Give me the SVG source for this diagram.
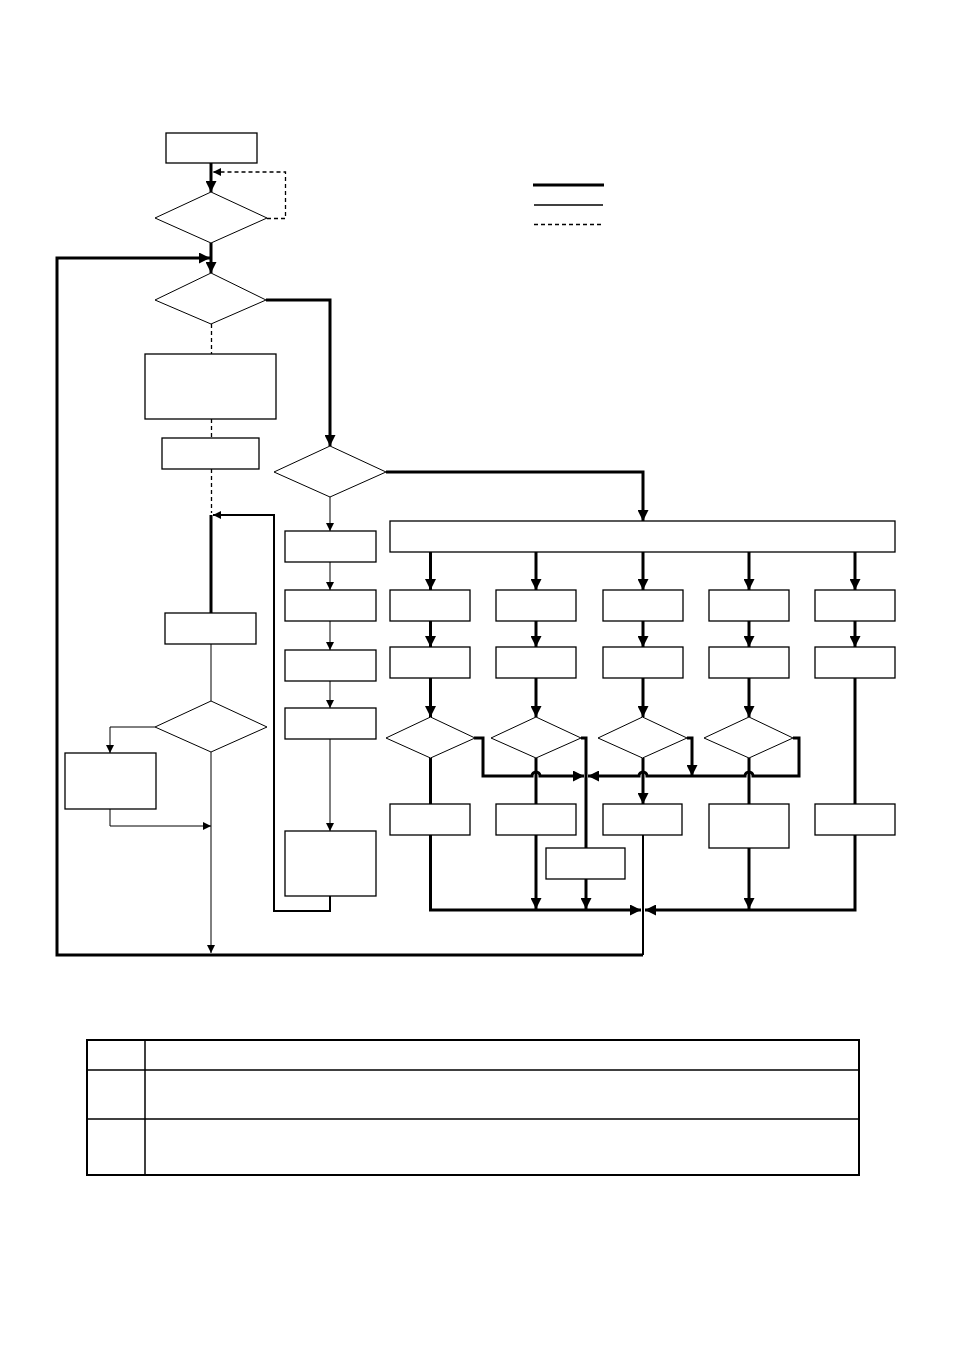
<svg xmlns="http://www.w3.org/2000/svg" width="954" height="1350" viewBox="0 0 954 1350">
<style>
.box{fill:#fff;stroke:#000;stroke-width:1.3}
.dia{fill:#fff;stroke:#000;stroke-width:1}
.thick{fill:none;stroke:#000;stroke-width:3}
.med{fill:none;stroke:#000;stroke-width:2}
.thin{fill:none;stroke:#000;stroke-width:1}
.dash{fill:none;stroke:#000;stroke-width:1.3;stroke-dasharray:4,3}
.ak{marker-end:url(#aT)}
.an{marker-end:url(#an)}
.tbl{fill:none;stroke:#000;stroke-width:2}
.tl{stroke:#000;stroke-width:1.5}
</style>
<defs>
<marker id="aT" markerUnits="userSpaceOnUse" markerWidth="11" markerHeight="11" refX="11" refY="5.5" orient="auto" viewBox="0 0 11 11"><path d="M0,0 L11,5.5 L0,11 z" fill="#000"/></marker>
<marker id="an" markerUnits="userSpaceOnUse" markerWidth="8" markerHeight="8" refX="8" refY="4" orient="auto" viewBox="0 0 8 8"><path d="M0,0 L8,4 L0,8 z" fill="#000"/></marker>
</defs>
<rect width="954" height="1350" fill="#fff"/>
<g id="connectors">
<path class="thick ak" d="M211,163 L211,192"/>
<path class="dash an" d="M267,218.5 L285.5,218.5 L285.5,172 L213,172"/>
<path class="thick ak" d="M211,243 L211,273"/>
<path class="thick ak" d="M643,955 L57,955 L57,258 L210,258"/>
<path class="thick ak" d="M266,300 L330,300 L330,446"/>
<path class="dash" d="M211.5,324 L211.5,354"/>
<path class="dash" d="M211.5,419 L211.5,438"/>
<path class="dash" d="M211.5,469 L211.5,513"/>
<path class="thick" d="M211,515 L211,613"/>
<path class="med an" d="M330,896 L330,911 L274,911 L274,515 L213,515"/>
<path class="thin" d="M211,644 L211,701"/>
<path class="thin an" d="M155,727 L110,727 L110,753"/>
<path class="thin an" d="M110,809 L110,826 L211,826"/>
<path class="thin an" d="M211,752 L211,953"/>
<path class="thin an" d="M330,497 L330,531"/>
<path class="thin an" d="M330,562 L330,590"/>
<path class="thin an" d="M330,621 L330,650"/>
<path class="thin an" d="M330,681 L330,708"/>
<path class="thin an" d="M330,739 L330,831"/>
<path class="thick ak" d="M386,472 L643,472 L643,521"/>
<path class="thick ak" d="M430.5,552 L430.5,590"/>
<path class="thick ak" d="M536,552 L536,590"/>
<path class="thick ak" d="M643,552 L643,590"/>
<path class="thick ak" d="M749,552 L749,590"/>
<path class="thick ak" d="M855,552 L855,590"/>
<path class="thick ak" d="M430.5,621 L430.5,647"/>
<path class="thick ak" d="M536,621 L536,647"/>
<path class="thick ak" d="M643,621 L643,647"/>
<path class="thick ak" d="M749,621 L749,647"/>
<path class="thick ak" d="M855,621 L855,647"/>
<path class="thick ak" d="M430.5,678 L430.5,717"/>
<path class="thick ak" d="M536,678 L536,717"/>
<path class="thick ak" d="M643,678 L643,717"/>
<path class="thick ak" d="M749,678 L749,717"/>
<path class="thick" d="M855,678 L855,804"/>
<path class="thick" d="M430.5,758 L430.5,804"/>
<path class="thick ak" d="M430.5,835 L430.5,910 L641,910"/>
<path class="thick" d="M536,758 L536,804"/>
<path class="thick ak" d="M536,835 L536,909"/>
<path class="thick" d="M581,738 L586,738 L586,848"/>
<path class="thick ak" d="M586,879 L586,909"/>
<path class="thick ak" d="M474,738 L483,738 L483,776 L532,776 A4,4 0 0 1 540,776 L584,776"/>
<path class="thick ak" d="M643,758 L643,804"/>
<path class="thick ak" d="M687,738 L692,738 L692,776"/>
<path class="thick ak" d="M793,738 L799,738 L799,776 L753,776 A4,4 0 0 0 745,776 L647,776 A4,4 0 0 0 639,776 L588,776"/>
<path class="thick" d="M749,758 L749,804"/>
<path class="thick ak" d="M749,848 L749,909"/>
<path class="thick ak" d="M855,835 L855,910 L645,910"/>
<path class="med" d="M643,835 L643,955"/>
</g>
<g id="legend">
<line x1="533" y1="185" x2="604" y2="185" stroke="#000" stroke-width="3"/>
<line x1="534" y1="205" x2="603" y2="205" stroke="#000" stroke-width="1.5"/>
<line x1="534" y1="224.5" x2="603" y2="224.5" stroke="#000" stroke-width="1.3" stroke-dasharray="4,3"/>
</g>
<g id="start"><rect class="box" x="166" y="133" width="91" height="30"/></g>
<g id="d1"><polygon class="dia" points="211,192 267,218 211,243 155,218"/></g>
<g id="d2"><polygon class="dia" points="211,273 266,300 211,324 155,300"/></g>
<g id="b3"><rect class="box" x="145" y="354" width="131" height="65"/></g>
<g id="b4"><rect class="box" x="162" y="438" width="97" height="31"/></g>
<g id="b5"><rect class="box" x="165" y="613" width="91" height="31"/></g>
<g id="d4"><polygon class="dia" points="211,701 267,727 211,752 155,727"/></g>
<g id="b6"><rect class="box" x="65" y="753" width="91" height="56"/></g>
<g id="d3"><polygon class="dia" points="330,446 386,472 330,497 274,472"/></g>
<g id="a1"><rect class="box" x="285" y="531" width="91" height="31"/></g>
<g id="a2"><rect class="box" x="285" y="590" width="91" height="31"/></g>
<g id="a3"><rect class="box" x="285" y="650" width="91" height="31"/></g>
<g id="a4"><rect class="box" x="285" y="708" width="91" height="31"/></g>
<g id="a5"><rect class="box" x="285" y="831" width="91" height="65"/></g>
<g id="wide"><rect class="box" x="390" y="521" width="505" height="31"/></g>
<g id="b1"><rect class="box" x="390" y="590" width="80" height="31"/></g>
<g id="b2"><rect class="box" x="496" y="590" width="80" height="31"/></g>
<g id="bb3"><rect class="box" x="603" y="590" width="80" height="31"/></g>
<g id="bb4"><rect class="box" x="709" y="590" width="80" height="31"/></g>
<g id="bb5"><rect class="box" x="815" y="590" width="80" height="31"/></g>
<g id="c1"><rect class="box" x="390" y="647" width="80" height="31"/></g>
<g id="c2"><rect class="box" x="496" y="647" width="80" height="31"/></g>
<g id="c3"><rect class="box" x="603" y="647" width="80" height="31"/></g>
<g id="c4"><rect class="box" x="709" y="647" width="80" height="31"/></g>
<g id="c5"><rect class="box" x="815" y="647" width="80" height="31"/></g>
<g id="dd1"><polygon class="dia" points="430.5,717 475,738 430.5,758 386,738"/></g>
<g id="dd2"><polygon class="dia" points="536,717 581,738 536,758 491,738"/></g>
<g id="dd3"><polygon class="dia" points="642.5,717 687,738 642.5,758 598,738"/></g>
<g id="dd4"><polygon class="dia" points="749,717 793,738 749,758 704,738"/></g>
<g id="e1"><rect class="box" x="390" y="804" width="80" height="31"/></g>
<g id="e2"><rect class="box" x="496" y="804" width="80" height="31"/></g>
<g id="e3"><rect class="box" x="603" y="804" width="79" height="31"/></g>
<g id="e4"><rect class="box" x="709" y="804" width="80" height="44"/></g>
<g id="e5"><rect class="box" x="815" y="804" width="80" height="31"/></g>
<g id="f"><rect class="box" x="546" y="848" width="79" height="31"/></g>
<g id="table">
<rect class="tbl" x="87" y="1040" width="772" height="135"/>
<line class="tl" x1="87" y1="1070" x2="859" y2="1070"/>
<line class="tl" x1="87" y1="1119" x2="859" y2="1119"/>
<line class="tl" x1="145" y1="1040" x2="145" y2="1175"/>
</g>
</svg>
